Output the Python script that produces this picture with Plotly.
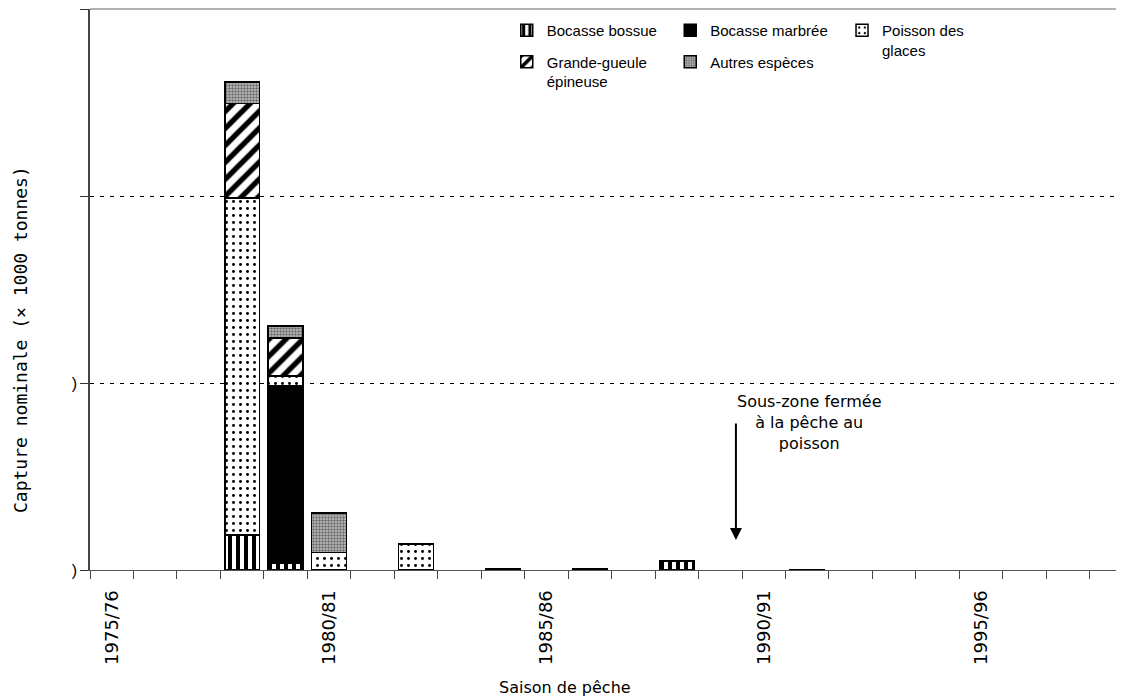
import plotly.graph_objects as go

seasons = ["1975/76", "1976/77", "1977/78", "1978/79", "1979/80", "1980/81", "1981/82",
           "1982/83", "1983/84", "1984/85", "1985/86", "1986/87", "1987/88", "1988/89",
           "1989/90", "1990/91", "1991/92", "1992/93", "1993/94", "1994/95", "1995/96",
           "1996/97", "1997/98", "1998/99"]
# nominal catch, thousand tonnes (None = no catch reported)
bocasse_bossue   = [None, None, None, 1.88, 0.36, None, None, None, None, None, None, None, None, 0.48, None, None, None, None, None, None, None, None, None, None]
bocasse_marbree  = [None, None, None, None, 9.47, None, None, None, None, None, None, None, None, None, None, None, None, None, None, None, None, None, None, None]
poisson_glaces   = [None, None, None, 18.0, 0.54, 0.93, None, 1.39, None, 0.05, None, 0.05, None, None, None, None, None, None, None, None, None, None, None, None]
grande_gueule    = [None, None, None, 5.06, 2.05, None, None, None, None, None, None, None, None, None, None, None, None, None, None, None, None, None, None, None]
autres_especes   = [None, None, None, 1.16, 0.62, 2.11, None, None, None, None, None, None, None, None, None, None, 0.02, None, None, None, None, None, None, None]
label_seasons = ["1975/76", "1980/81", "1985/86", "1990/91", "1995/96"]
y_ticks = [0, 10, 20, 30]
y_ticktext = [")", ")", "", ""]

FONT = "Liberation Sans, Arial, sans-serif"
WIDE = "DejaVu Sans, Verdana, sans-serif"
MONO = "DejaVu Sans Mono, monospace"
idx = list(range(len(seasons)))

series = [
    ("Bocasse bossue", bocasse_bossue, dict(shape="|", size=8, solidity=0.5), "legend", "g1"),
    ("Bocasse marbrée", bocasse_marbree, None, "legend2", "g2"),
    ("Poisson des<br>glaces", poisson_glaces, dict(shape=".", size=7, solidity=0.14), "legend3", "g3"),
    ("Grande-gueule<br>épineuse", grande_gueule, dict(shape="/", size=12, solidity=0.45), "legend", "g4"),
    ("Autres espèces", autres_especes, dict(shape=".", size=3, solidity=0.5, fgcolor="#6a6a6a", bgcolor="#c4c4c4"), "legend2", "g5"),
]

fig = go.Figure()
for name, vals, pat, leg, grp in series:
    marker = dict(color="black" if pat is None else "white", line=dict(color="black", width=1.5))
    if pat is not None:
        p = dict(fgcolor="black", bgcolor="white", fgopacity=1, fillmode="replace")
        p.update(pat)
        marker["pattern"] = p
    fig.add_trace(go.Bar(x=idx, y=vals, name=name, marker=marker, width=0.8,
                         legend=leg, legendgroup=grp))

leg_common = dict(font=dict(family=FONT, size=15, color="black"), bgcolor="rgba(0,0,0,0)",
                  borderwidth=0, yanchor="top", y=0.991, xanchor="left",
                  tracegroupgap=9, valign="top", orientation="v")
fig.update_layout(
    barmode="stack",
    width=1124, height=700,
    margin=dict(l=82, r=4, t=1, b=138),
    paper_bgcolor="white", plot_bgcolor="white",
    font=dict(family=FONT, size=15, color="black"),
    legend=dict(x=0.4015, **leg_common),
    legend2=dict(x=0.559, **leg_common),
    legend3=dict(x=0.7245, **leg_common),
)
fig.update_xaxes(
    range=[-0.5, 23.38], showgrid=False, zeroline=False,
    showline=True, linecolor="#555", linewidth=1,
    tickmode="array", tickvals=[seasons.index(s) for s in label_seasons], ticktext=label_seasons,
    ticks="", tickangle=-90, ticklabelstandoff=12, tickfont=dict(family=WIDE, size=18, color="black"),
    minor=dict(tickmode="linear", tick0=0.5, dtick=1, ticks="outside", ticklen=8, tickcolor="#444", showgrid=False),
)
fig.update_yaxes(
    range=[0, 30], showgrid=True, gridcolor="black", griddash="4px,6px", gridwidth=1,
    zeroline=False, showline=True, linecolor="#444", linewidth=1.5,
    tickmode="array", tickvals=y_ticks, ticktext=y_ticktext,
    ticks="outside", ticklen=8, tickcolor="#333",
    tickfont=dict(family=FONT, size=16, color="black"),
)
fig.add_shape(type="line", xref="paper", yref="paper", x0=0, x1=1, y0=1, y1=1,
              line=dict(color="#999", width=1.5))
# axis titles
fig.add_annotation(xref="paper", yref="paper", x=(565 - 90) / 1038, y=-0.209,
                   text="Saison de pêche", showarrow=False, xanchor="center", yanchor="middle",
                   font=dict(family=WIDE, size=16, color="black"))
fig.add_annotation(xref="paper", yref="y", x=-(90 - 21) / 1038, y=12.3,
                   text="Capture nominale (× 1000 tonnes)", showarrow=False, textangle=-90,
                   xanchor="center", yanchor="middle",
                   font=dict(family=MONO, size=18, color="black"))
# closure note
fig.add_annotation(x=14.36, y=1.6, xref="x", yref="y", text="", showarrow=True,
                   ax=0, ay=-118, arrowhead=2, arrowsize=1.2, arrowwidth=2, arrowcolor="black")
fig.add_annotation(x=16.05, y=9.65, xref="x", yref="y", yanchor="top", xanchor="center",
                   text="Sous-zone fermée<br>à la pêche au<br>poisson", showarrow=False,
                   font=dict(family=WIDE, size=16, color="black"), align="center")

fig.write_html("out.html")
